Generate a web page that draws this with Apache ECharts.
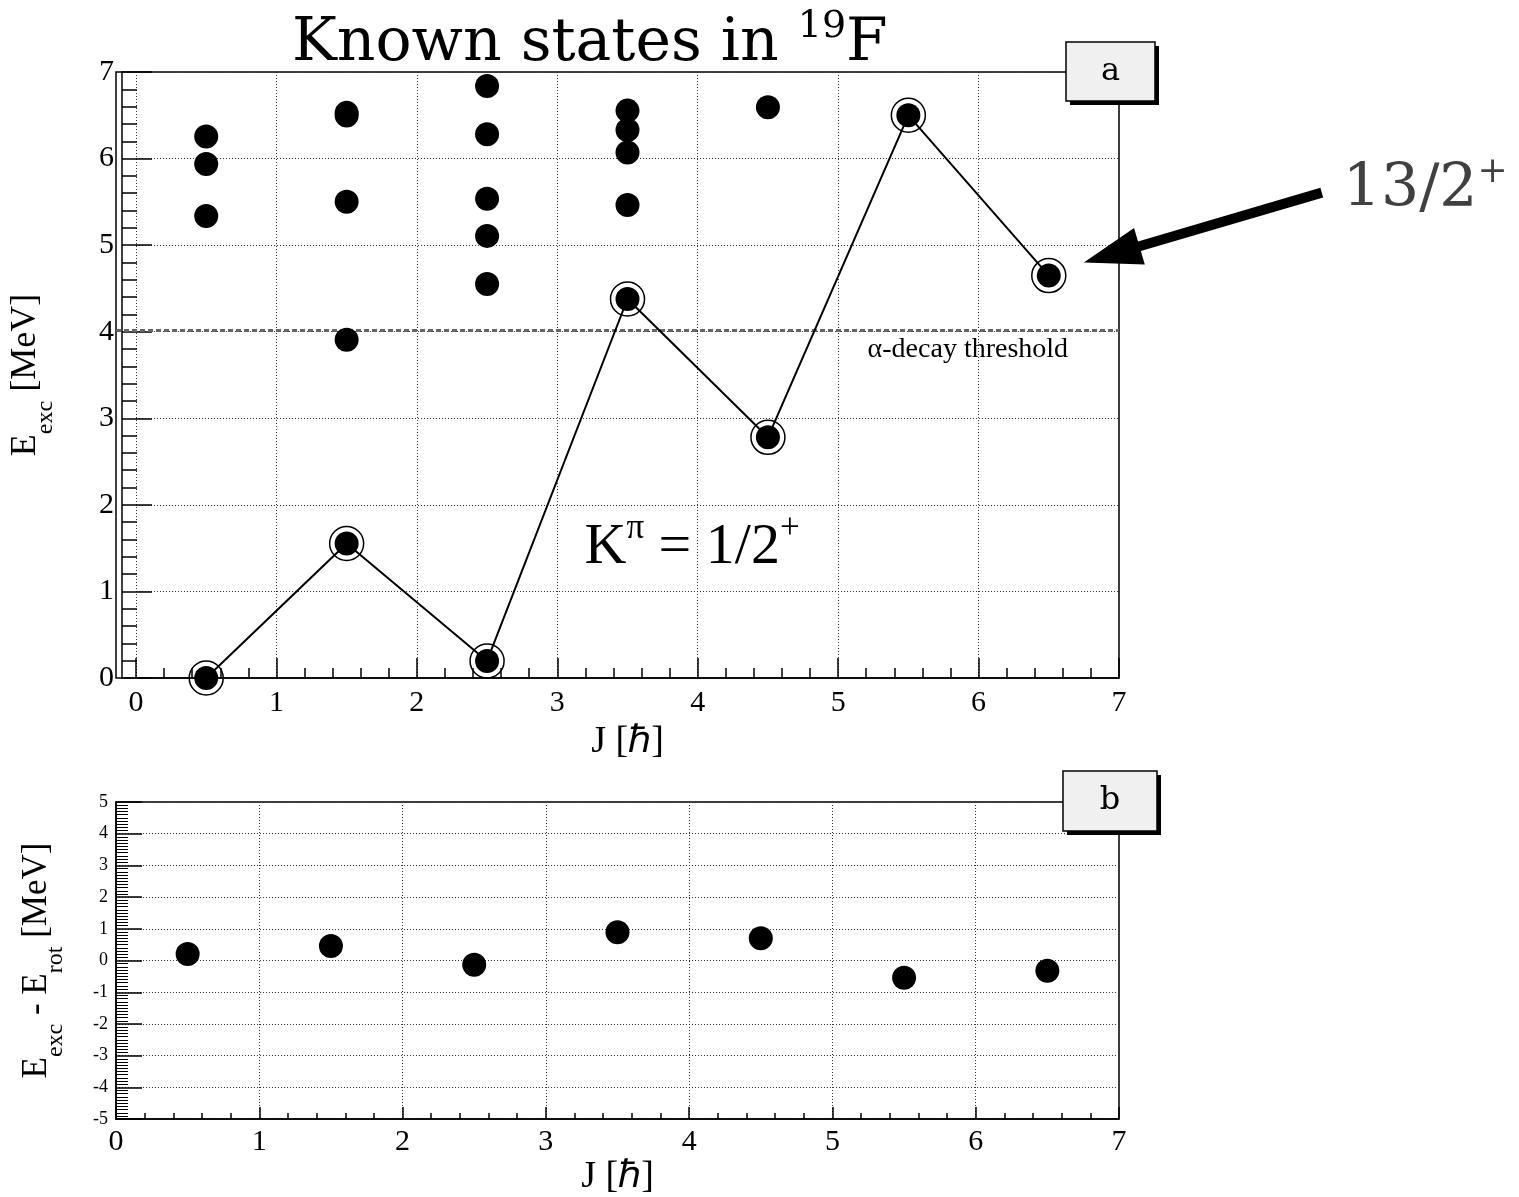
<!DOCTYPE html>
<html><head><meta charset="utf-8">
<script src="https://cdn.jsdelivr.net/npm/echarts@6/dist/echarts.min.js"></script>
<style>html,body{margin:0;padding:0;background:#fff}#c{width:1519px;height:1197px}</style>
</head><body><div id="c"></div><script>
// ---- data ----
const J = [0.5, 1.5, 2.5, 3.5, 4.5, 5.5, 6.5];
const bandE = [0.000, 1.554, 0.197, 4.378, 2.780, 6.500, 4.648];
const otherJ = [0.5, 0.5, 0.5, 1.5, 1.5, 1.5, 1.5, 2.5, 2.5, 2.5, 2.5, 2.5, 3.5, 3.5, 3.5, 3.5, 4.5];
const otherE = [5.337, 5.938, 6.255, 3.908, 5.500, 6.497, 6.528, 4.550, 5.107, 5.535, 6.282, 6.838, 5.463, 6.070, 6.330, 6.554, 6.592];
const residual = [0.21, 0.46, -0.13, 0.89, 0.70, -0.54, -0.32];
const alphaThreshold = 4.014;
const topXRange = [0, 7];
const frameXRange = [-0.1, 7];
const topYRange = [0, 7];
const botXRange = [0, 7];
const botYRange = [-5, 5];

const SERIF = 'Liberation Serif';
const SCHOOL = 'DejaVu Serif';
const grid0 = {left: 130, top: 72, width: 989, height: 606};
const grid1 = {left: 116, top: 802, width: 1003, height: 321};
const grid2 = {left: 116, top: 72, width: 1003, height: 606};

const dotted = {type: [1, 2], color: '#333', width: 1};
function axisCommon(o) {
  return Object.assign({
    type: 'value',
    axisLine: {show: true, onZero: false, lineStyle: {color: '#000', width: 1.5}},
    splitLine: {show: true, lineStyle: dotted},
    axisLabel: {color: '#000', fontFamily: SERIF, fontSize: 30, margin: 8},
    nameTextStyle: {color: '#000', fontFamily: SERIF}
  }, o);
}

const option = {
  animation: false,
  backgroundColor: '#fff',
  textStyle: {fontFamily: SERIF},
  title: {
    text: '{m|Known states in }{s|19}{m|F}',
    left: 287, top: 3,
    textStyle: {
      fontWeight: 'normal',
      rich: {
        m: {fontFamily: SCHOOL, fontSize: 60, fontWeight: 'normal', color: '#000', verticalAlign: 'bottom', lineHeight: 66},
        s: {fontFamily: SCHOOL, fontSize: 38, fontWeight: 'normal', color: '#000', verticalAlign: 'top', lineHeight: 40}
      }
    }
  },
  grid: [
    Object.assign({show: false}, grid0),
    Object.assign({show: true, borderColor: '#000', borderWidth: 1.5, backgroundColor: 'transparent'}, grid1),
    Object.assign({show: true, borderColor: '#000', borderWidth: 1.5, backgroundColor: 'transparent'}, grid2)
  ],
  xAxis: [
    axisCommon({
      gridIndex: 0, min: topXRange[0], max: topXRange[1], interval: 1,
      axisTick: {show: true, inside: true, length: 20, lineStyle: {color: '#000', width: 1.5}},
      minorTick: {show: true, splitNumber: 5, length: 10, lineStyle: {color: '#000', width: 1.5}},
      axisLabel: {color: '#000', fontFamily: SERIF, fontSize: 30, margin: 10},
      name: 'J [\u210F]', nameLocation: 'middle', nameGap: 38,
      nameTextStyle: {color: '#000', fontFamily: SERIF, fontSize: 38}
    }),
    axisCommon({
      gridIndex: 1, min: botXRange[0], max: botXRange[1], interval: 1,
      axisTick: {show: true, inside: true, length: 12, lineStyle: {color: '#000', width: 1.5}},
      minorTick: {show: true, splitNumber: 5, length: 6, lineStyle: {color: '#000', width: 1.5}},
      name: 'J [\u210F]', nameLocation: 'middle', nameGap: 34,
      nameTextStyle: {color: '#000', fontFamily: SERIF, fontSize: 38}
    }),
    {gridIndex: 2, type: 'value', min: frameXRange[0], max: frameXRange[1], show: false}
  ],
  yAxis: [
    axisCommon({
      gridIndex: 0, min: topYRange[0], max: topYRange[1], interval: 1, offset: 14,
      axisTick: {show: true, inside: true, length: 30, lineStyle: {color: '#000', width: 1.5}},
      minorTick: {show: true, splitNumber: 5, length: 15, lineStyle: {color: '#000', width: 1.5}},
      name: '{m|E}{s|exc}{m| [MeV]}', nameLocation: 'middle', nameRotate: 90, nameGap: 64,
      nameTextStyle: {rich: {
        m: {fontFamily: SERIF, fontSize: 36, color: '#000', verticalAlign: 'top', lineHeight: 40},
        s: {fontFamily: SERIF, fontSize: 24, color: '#000', verticalAlign: 'bottom', lineHeight: 50}
      }}
    }),
    axisCommon({
      gridIndex: 1, min: botYRange[0], max: botYRange[1], interval: 1,
      axisTick: {show: true, inside: true, length: 26, lineStyle: {color: '#000', width: 1.5}},
      minorTick: {show: true, splitNumber: 10, length: 12, lineStyle: {color: '#000', width: 1}},
      axisLabel: {color: '#000', fontFamily: SERIF, fontSize: 18, margin: 8},
      name: '{m|E}{s|exc}{m| - E}{s|rot}{m| [MeV]}', nameLocation: 'middle', nameRotate: 90, nameGap: 48,
      nameTextStyle: {rich: {
        m: {fontFamily: SERIF, fontSize: 35, color: '#000', verticalAlign: 'top', lineHeight: 39},
        s: {fontFamily: SERIF, fontSize: 24, color: '#000', verticalAlign: 'bottom', lineHeight: 49}
      }}
    }),
    {gridIndex: 2, type: 'value', min: topYRange[0], max: topYRange[1], show: false}
  ],
  series: [
    {
      name: 'threshold', type: 'line', xAxisIndex: 2, yAxisIndex: 2, showSymbol: false, silent: true,
      data: [[frameXRange[0], alphaThreshold], [frameXRange[1], alphaThreshold]],
      lineStyle: {color: '#666', width: 3, type: [5, 3]}, z: 1
    },
    {
      name: 'band', type: 'line', xAxisIndex: 0, yAxisIndex: 0, showSymbol: false,
      data: J.map((j, i) => [j, bandE[i]]),
      lineStyle: {color: '#000', width: 2}, z: 3
    },
    {
      name: 'rings', type: 'scatter', xAxisIndex: 0, yAxisIndex: 0, symbol: 'circle', symbolSize: 34,
      data: J.map((j, i) => [j, bandE[i]]),
      itemStyle: {color: 'rgba(255,255,255,0)', borderColor: '#000', borderWidth: 1.5, opacity: 1}, z: 4
    },
    {
      name: 'bandDots', type: 'scatter', xAxisIndex: 0, yAxisIndex: 0, symbol: 'circle', symbolSize: 24,
      data: J.map((j, i) => [j, bandE[i]]),
      itemStyle: {color: '#000', opacity: 1}, z: 5
    },
    {
      name: 'otherDots', type: 'scatter', xAxisIndex: 0, yAxisIndex: 0, symbol: 'circle', symbolSize: 24,
      data: otherJ.map((j, i) => [j, otherE[i]]),
      itemStyle: {color: '#000', opacity: 1}, z: 5
    },
    {
      name: 'residual', type: 'scatter', xAxisIndex: 1, yAxisIndex: 1, symbol: 'circle', symbolSize: 24,
      data: J.map((j, i) => [j, residual[i]]),
      itemStyle: {color: '#000', opacity: 1}, z: 5
    }
  ]
};

const chart = echarts.init(document.getElementById('c'), null, {renderer: 'canvas'});
chart.setOption(option);

function labelBox(x, y, w, h, txt) {
  return {
    type: 'group', children: [
      {type: 'rect', shape: {x: x + 4, y: y + 4, width: w, height: h}, style: {fill: '#000'}, z: 100},
      {type: 'rect', shape: {x: x, y: y, width: w, height: h}, style: {fill: '#f0f0f0', stroke: '#000', lineWidth: 1.5}, z: 101},
      {type: 'text', x: x + w / 2, y: y + h / 2, style: {text: txt, fontFamily: SCHOOL, fontSize: 32, fill: '#000', align: 'center', verticalAlign: 'middle'}, z: 102}
    ]
  };
}

const pEnd = chart.convertToPixel({gridIndex: 0}, [J[6], bandE[6]]);
const tip = [pEnd[0] + 35, pEnd[1] - 13];
const tail = [pEnd[0] + 273, pEnd[1] - 83];
const dx = tail[0] - tip[0], dy = tail[1] - tip[1];
const L = Math.sqrt(dx * dx + dy * dy);
const ux = dx / L, uy = dy / L, nx = -uy, ny = ux;
const headLen = 58, headHalf = 19, shaftHalf = 5;
const hb = [tip[0] + ux * headLen, tip[1] + uy * headLen];
const arrowPts = [
  tip,
  [hb[0] + nx * headHalf, hb[1] + ny * headHalf],
  [hb[0] + nx * shaftHalf, hb[1] + ny * shaftHalf],
  [tail[0] + nx * shaftHalf, tail[1] + ny * shaftHalf],
  [tail[0] - nx * shaftHalf, tail[1] - ny * shaftHalf],
  [hb[0] - nx * shaftHalf, hb[1] - ny * shaftHalf],
  [hb[0] - nx * headHalf, hb[1] - ny * headHalf]
];

const pThr = chart.convertToPixel({gridIndex: 2}, [5.93, alphaThreshold]);
const pK = chart.convertToPixel({gridIndex: 0}, [3.96, 1.55]);

chart.setOption({
  graphic: [
    labelBox(1066, 42, 89, 59, 'a'),
    labelBox(1063, 771, 94, 60, 'b'),
    {type: 'polygon', shape: {points: arrowPts}, style: {fill: '#000'}, z: 110},
    {type: 'text', x: tail[0] + 21, y: tail[1] - 5, style: {
      text: '{m|13/2}{p|+}', fill: '#404040', verticalAlign: 'middle', align: 'left',
      rich: {
        m: {fontFamily: SCHOOL, fontSize: 60, fill: '#404040', verticalAlign: 'bottom', lineHeight: 66},
        p: {fontFamily: SCHOOL, fontSize: 36, fill: '#404040', verticalAlign: 'top', lineHeight: 40}
      }}, z: 110},
    {type: 'text', x: pThr[0], y: pThr[1] + 19, style: {
      text: '\u03B1-decay threshold', fontFamily: SERIF, fontSize: 28, fill: '#000', align: 'center', verticalAlign: 'middle'}, z: 110},
    {type: 'text', x: pK[0], y: pK[1], style: {
      text: '{m|K}{p|\u03C0}{m| = 1/2}{p|+}', align: 'center', verticalAlign: 'middle',
      rich: {
        m: {fontFamily: SERIF, fontSize: 58, fill: '#000', verticalAlign: 'bottom', lineHeight: 66},
        p: {fontFamily: SERIF, fontSize: 35, fill: '#000', verticalAlign: 'top', lineHeight: 39}
      }}, z: 110}
  ]
});
</script></body></html>
